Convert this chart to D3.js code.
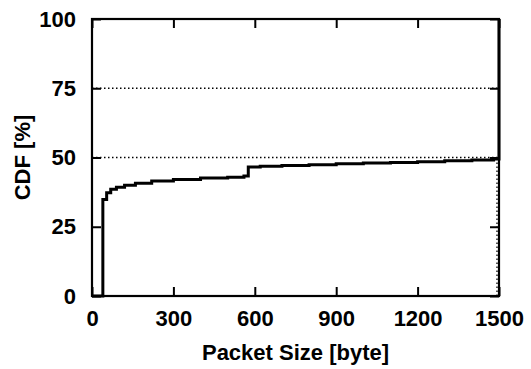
<!DOCTYPE html>
<html><head><meta charset="utf-8">
<script src="https://cdn.jsdelivr.net/npm/d3@7"></script>
<style>body{margin:0;background:#fff}svg{display:block}text{font-family:"Liberation Sans",Arial,sans-serif;font-weight:bold;fill:#000}</style>
</head><body><svg id="c" width="531" height="369"></svg>
<script>
const sizes = [0, 40, 54, 69, 90, 120, 160, 220, 300, 400, 500, 560, 576, 620, 700, 800, 900, 1000, 1100, 1200, 1300, 1400, 1480, 1500];
const cdf   = [0, 34.8, 37.3, 38.5, 39.3, 40.0, 40.7, 41.5, 42.1, 42.6, 42.9, 43.3, 46.6, 46.8, 47.1, 47.4, 47.7, 48.0, 48.2, 48.5, 48.8, 49.1, 49.5, 100];
const xTicks = [0, 300, 600, 900, 1200, 1500];
const yTicks = [0, 25, 50, 75, 100];
const gridY = [50, 75];

const svg = d3.select("#c");
const L = 92, R = 499, T = 19, B = 296;
const x = d3.scaleLinear().domain([0, 1500]).range([L, R]);
const y = d3.scaleLinear().domain([0, 100]).range([B, T]);
const fmt = d3.format("d");

// grid
svg.selectAll(".gy").data(gridY).join("line")
  .attr("x1", L).attr("x2", R).attr("y1", d => y(d)).attr("y2", d => y(d))
  .attr("stroke", "#000").attr("stroke-width", 1.3).attr("stroke-dasharray", "1.5,2.5");
svg.append("line").attr("x1", x(1500) - 2).attr("x2", x(1500) - 2)
  .attr("y1", y(0)).attr("y2", y(50))
  .attr("stroke", "#000").attr("stroke-width", 1.3).attr("stroke-dasharray", "1.5,2.5");

// axes with inward ticks, mirrored
const tl = 9;
svg.append("g").attr("transform", `translate(0,${B})`)
  .call(d3.axisBottom(x).tickValues(xTicks).tickFormat(fmt).tickSizeInner(-tl).tickSizeOuter(0))
  .call(g => { g.select(".domain").remove(); g.selectAll("line").attr("stroke-width", 2);
    g.selectAll("text").attr("font-size", 22).attr("y", 30).attr("dy", 0); });
svg.append("g").attr("transform", `translate(0,${T})`)
  .call(d3.axisTop(x).tickValues(xTicks).tickSizeInner(-tl).tickSizeOuter(0).tickFormat(""))
  .call(g => { g.select(".domain").remove(); g.selectAll("line").attr("stroke-width", 2); });
svg.append("g").attr("transform", `translate(${L},0)`)
  .call(d3.axisLeft(y).tickValues(yTicks).tickFormat(fmt).tickSizeInner(-tl).tickSizeOuter(0).tickPadding(16))
  .call(g => { g.select(".domain").remove(); g.selectAll("line").attr("stroke-width", 2);
    g.selectAll("text").attr("font-size", 22); });
svg.append("g").attr("transform", `translate(${R},0)`)
  .call(d3.axisRight(y).tickValues(yTicks).tickSizeInner(-tl).tickSizeOuter(0).tickFormat(""))
  .call(g => { g.select(".domain").remove(); g.selectAll("line").attr("stroke-width", 2); });

// curve
const line = d3.line().x((d, i) => x(sizes[i])).y(d => y(d)).curve(d3.curveStepAfter);
svg.append("path").attr("d", line(cdf)).attr("fill", "none").attr("stroke", "#000")
  .attr("stroke-width", 3).attr("stroke-linejoin", "miter");

// frame
svg.append("rect").attr("x", L).attr("y", T).attr("width", R - L).attr("height", B - T)
  .attr("fill", "none").attr("stroke", "#000").attr("stroke-width", 2.2);

// labels
svg.append("text").attr("x", (L + R) / 2).attr("y", 360).attr("text-anchor", "middle")
  .attr("font-size", 22).text("Packet Size [byte]");
svg.append("text").attr("transform", `translate(30,${(T + B) / 2}) rotate(-90)`)
  .attr("text-anchor", "middle").attr("font-size", 22).text("CDF [%]");
</script></body></html>
